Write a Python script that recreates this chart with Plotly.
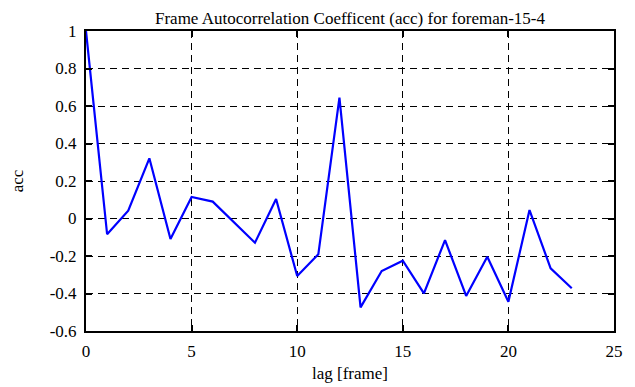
import plotly.graph_objects as go

lags = list(range(24))
acc = [1.0, -0.084, 0.042, 0.321, -0.109, 0.115, 0.090, -0.022, -0.129, 0.104,
       -0.307, -0.191, 0.645, -0.474, -0.280, -0.225, -0.399, -0.115, -0.413,
       -0.204, -0.444, 0.045, -0.266, -0.372]
x_ticks = [0, 5, 10, 15, 20, 25]
y_ticks = [-0.6, -0.4, -0.2, 0, 0.2, 0.4, 0.6, 0.8, 1]
y_tick_text = ["-0.6", "-0.4", "-0.2", "0", "0.2", "0.4", "0.6", "0.8", "1"]

font = "Liberation Serif"

fig = go.Figure()
fig.add_trace(go.Scatter(x=lags, y=acc, mode="lines",
                         line=dict(color="#0000ff", width=2.2), showlegend=False))

# page body has an 8px default margin, so the figure is sized to fit the window
fig.update_layout(
    width=627, height=379,
    margin=dict(l=78, r=21, t=23, b=56),
    paper_bgcolor="white", plot_bgcolor="white",
    font=dict(family=font, size=17, color="black"),
    title=dict(text="Frame Autocorrelation Coefficent (acc) for foreman-15-4",
               x=0.5, xanchor="center", xref="paper", y=0.99, yanchor="top",
               font=dict(family=font, size=17, color="black")),
)
common = dict(showline=True, linecolor="black", linewidth=2, mirror="ticks",
              ticks="inside", ticklen=6, tickcolor="black", tickwidth=1.5,
              showgrid=True, gridcolor="black", griddash="7px,5px", gridwidth=1,
              zeroline=False, automargin=False,
              tickfont=dict(family=font, size=17, color="black"))
fig.update_xaxes(range=[0, 25], tickvals=x_ticks, ticktext=[str(t) for t in x_ticks],
                 ticklabelstandoff=4,
                 title=dict(text="lag [frame]", standoff=7,
                            font=dict(family=font, size=17)), **common)
fig.update_yaxes(range=[-0.6, 1], tickvals=y_ticks, ticktext=y_tick_text,
                 ticklabelstandoff=4,
                 title=dict(text="acc", standoff=25,
                            font=dict(family=font, size=17)), **common)

fig.write_html("out.html")
